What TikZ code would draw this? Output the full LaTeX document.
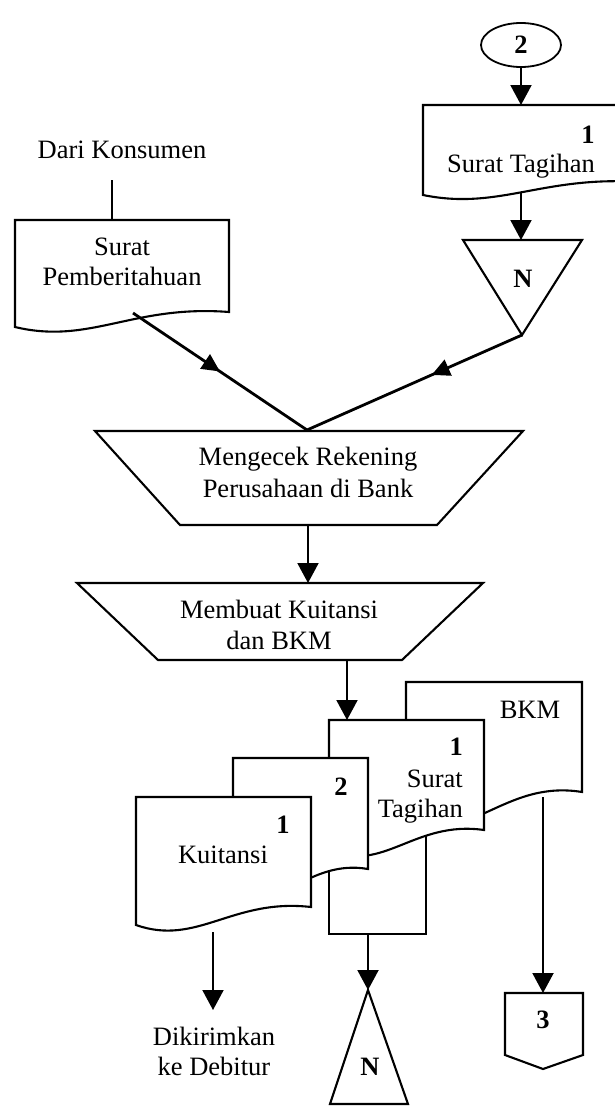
\documentclass[tikz,border=0pt]{standalone}
\usepackage{fontspec}
\setmainfont{Liberation Serif}
\usetikzlibrary{arrows.meta,decorations.markings,shapes.geometric}

\tikzset{
  shape line/.style={draw=black, line width=2.1pt, fill=white, line join=miter},
  flow/.style={draw=black, line width=2pt, -{Triangle[length=20pt,width=21pt]}},
  plain line/.style={draw=black, line width=1.5pt},
  mid arrow/.style={draw=black, line width=2.8pt, postaction={decorate},
    decoration={markings, mark=at position #1 with {\arrow{Triangle[length=18pt,width=17pt]}}}},
  lbl/.style={font=\fontsize{26.5}{30}\selectfont, inner sep=0pt},
  num/.style={font=\fontsize{26.5}{30}\selectfont\bfseries, inner sep=0pt},
}

% document symbol: left x, top y, right x, bottom-left y, bottom-right y
\newcommand\docshape[5]{%
  \pgfmathsetmacro\dcW{#3-#1}%
  \pgfmathsetmacro\dcD{#4-#5}%
  \pgfmathsetmacro\dcAx{#1+0.35*\dcW}%
  \pgfmathsetmacro\dcAy{#4+1.2*\dcD}%
  \pgfmathsetmacro\dcBx{#1+0.55*\dcW}%
  \pgfmathsetmacro\dcBy{#5-0.5*\dcD}%
  \draw[shape line] (#1,#2) -- (#3,#2) -- (#3,#5)
    .. controls (\dcBx,\dcBy) and (\dcAx,\dcAy) .. (#1,#4) -- cycle;}

\begin{document}
\begin{tikzpicture}[x=1pt,y=-1pt]
\clip (0,0) rectangle (615,1106);

% ---- connector 2 and incoming invoice ----
\node[draw, ellipse, line width=1.8pt, minimum width=80pt, minimum height=44pt,
      num] (c2) at (521,45) {2};
\docshape{423}{105}{640}{195}{182}
\node[num, anchor=base] (sttop-no) at (588,143) {1};
\node[lbl, anchor=base] (sttop-lbl) at (521,172) {Surat Tagihan};
\coordinate (sttop-in) at (521,105);
\coordinate (sttop-out) at (521,192);

% file N
\draw[shape line] (463,240) -- (582,240) -- (522,335) -- cycle;
\node[num, anchor=base] (n1) at (523,287) {N};
\coordinate (n1-in) at (521,240);
\coordinate (n1-apex) at (522,335);

% ---- notification from customer ----
\node[lbl, anchor=base] (dari) at (122,158) {Dari Konsumen};
\coordinate (dari-end) at (112,180);
\docshape{15}{220}{229}{327}{312}
\node[lbl, anchor=base] (sp1) at (122,255) {Surat};
\node[lbl, anchor=base] (sp2) at (122,285) {Pemberitahuan};
\coordinate (sp-in) at (112,220);
\coordinate (sp-out) at (133,313);

% ---- process 1 ----
\draw[shape line] (95,431) -- (523,431) -- (437,525) -- (180,525) -- cycle;
\node[lbl, anchor=base] (p1a) at (308,465) {Mengecek Rekening};
\node[lbl, anchor=base] (p1b) at (308,497) {Perusahaan di Bank};
\coordinate (merge) at (307,430);
\coordinate (p1-out) at (308,525);

% ---- process 2 ----
\draw[shape line] (77,583) -- (483,583) -- (402,660) -- (158,660) -- cycle;
\node[lbl, anchor=base] (p2a) at (279,618) {Membuat Kuitansi};
\node[lbl, anchor=base] (p2b) at (279,649) {dan BKM};
\coordinate (p2-in) at (308,583);
\coordinate (p2-out) at (347,660);

% ---- output documents (back to front) ----
\docshape{406}{682}{582}{818}{792}
\node[lbl, anchor=base] (bkm) at (530,718) {BKM};
\coordinate (bkm-out) at (543,797);

\draw[shape line] (329,760) rectangle (426,934);
\coordinate (copy-out) at (368,934);

\docshape{329}{720}{484}{850}{830}
\node[num, anchor=base east] (st-no) at (463,755) {1};
\node[lbl, anchor=base east] (st1) at (463,787) {Surat};
\node[lbl, anchor=base east] (st2) at (463,817) {Tagihan};
\coordinate (st-in) at (347,720);

\docshape{233}{758}{368}{890}{869}
\node[num, anchor=base] (kw2-no) at (341,795) {2};

\docshape{136}{797}{311}{925}{907}
\node[num, anchor=base] (kw1-no) at (283,833) {1};
\node[lbl, anchor=base] (kw1) at (223,863) {Kuitansi};
\coordinate (kw-out) at (213,932);

% ---- destinations ----
\coordinate (deb-in) at (213,1010);
\node[lbl, anchor=base] (deb1) at (214,1045) {Dikirimkan};
\node[lbl, anchor=base] (deb2) at (214,1075) {ke Debitur};

\draw[shape line] (368,990) -- (408,1104) -- (330,1104) -- cycle;
\node[num, anchor=base] (n2) at (370,1075) {N};
\coordinate (n2-apex) at (368,990);

\draw[shape line] (505,993) -- (583,993) -- (583,1055) -- (543,1069) -- (505,1055) -- cycle;
\node[num, anchor=base] (c3) at (543,1028) {3};
\coordinate (c3-in) at (543,993);

% ---- connectors ----
\draw[flow] (c2.south) -- (sttop-in);
\draw[flow] (sttop-out) -- (n1-in);
\draw[plain line] (dari-end) -- (sp-in);
\draw[mid arrow=0.5] (sp-out) -- (merge);
\draw[mid arrow=0.42] (n1-apex) -- (merge);
\draw[flow] (p1-out) -- (p2-in);
\draw[flow] (p2-out) -- (st-in);
\draw[flow] (kw-out) -- (deb-in);
\draw[flow] (copy-out) -- (n2-apex);
\draw[flow] (bkm-out) -- (c3-in);
\end{tikzpicture}
\end{document}
